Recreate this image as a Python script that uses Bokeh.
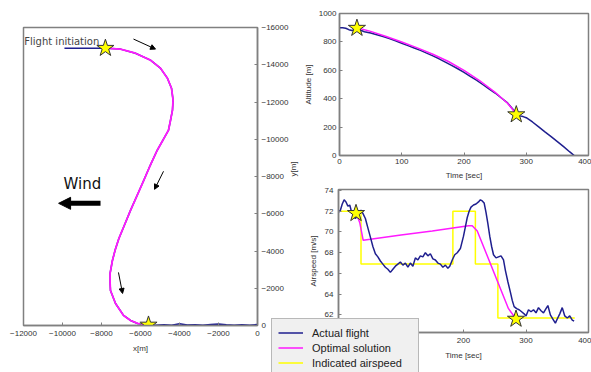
import math
from bokeh.plotting import figure
from bokeh.models import (Range1d, FixedTicker, Label, Arrow, NormalHead,
                          Legend, LegendItem, ColumnDataSource, GridBox, Column)
from bokeh.embed import file_html
from bokeh.resources import INLINE

# ---------------- Left panel: ground track [m] ----------------
track_x_ticks = [-12000, -10000, -8000, -6000, -4000, -2000, 0]
track_x_labels = ["\u221212000", "\u221210000", "\u22128000", "\u22126000", "\u22124000", "\u22122000", "0"]
track_y_ticks = [0, -2000, -4000, -6000, -8000, -10000, -12000, -14000, -16000]
track_y_labels = ["0", "\u22122000", "\u22124000", "\u22126000", "\u22128000", "\u221210000", "\u221212000", "\u221214000", "\u221216000"]

opt_track_x = [-7800, -7030, -6260, -5490, -4980, -4620, -4410, -4330, -4360, -4460,
               -4565, -4850, -5144, -5500, -5831, -6170, -6513, -6800, -7113, -7300,
               -7440, -7560, -7560, -7540, -7280, -6870, -6510, -6150, -5590]
opt_track_y = [-14890, -14840, -14620, -14250, -13820, -13280, -12740, -12100, -11560, -11020,
               -10483, -9950, -9408, -8600, -7795, -6990, -6182, -5450, -4661, -4050,
               -3490, -2800, -2310, -1880, -1180, -540, -270, -110, -30]

act_start_x = [-9900, -7800]
act_start_y = [-14880, -14890]
act_end_x = [-5590, -5200, -4800, -4400, -4000, -3600, -3200, -2800, -2400, -2000, -1600, -1200, -800, -400, 0]
act_end_y = [-30, -20, -45, -15, -90, -25, -35, -10, -50, -80, -35, -15, -40, -20, -50]

track_star_x = [-7800, -5590]
track_star_y = [-14890, -30]

heading_x0 = [-6360, -4820, -7130]
heading_y0 = [-15380, -8280, -2850]
heading_x1 = [-5230, -5280, -6920]
heading_y1 = [-14840, -7310, -1720]

wind_x = [-8050, -10200]
wind_y = -6560

# ---------------- Top right: altitude vs time ----------------
time_ticks = [0, 100, 200, 300, 400]
alt_ticks = [0, 200, 400, 600, 800, 1000]

alt_t = [0, 5, 10, 15, 20, 25, 30, 35, 40, 50, 60, 70, 80, 90, 100, 110, 120, 130, 140,
         150, 160, 170, 180, 190, 200, 210, 220, 230, 240, 250, 260, 270, 280, 285, 290,
         295, 300, 310, 320, 330, 340, 350, 360, 370, 377]
alt_v = [900, 899, 896, 886, 881, 887, 891, 880, 872, 862, 850, 838, 824, 808, 791, 774, 757, 740, 721,
         702, 681, 658, 635, 611, 586, 558, 530, 500, 470, 440, 405, 370, 318, 292, 279,
         274, 266, 236, 201, 166, 133, 98, 62, 25, 0]

opt_alt_t = [28, 50, 75, 100, 125, 150, 175, 200, 225, 250, 270, 284]
opt_alt_v = [900, 874, 838, 799, 758, 713, 662, 600, 528, 445, 368, 292]

alt_star_t = [28, 284]
alt_star_v = [897, 288]

# ---------------- Bottom right: airspeed vs time ----------------
spd_ticks = [62, 64, 66, 68, 70, 72, 74]

spd_t = [0, 3, 6, 9, 12, 15, 18, 21, 24, 27,
         30, 33, 36, 39, 43, 47, 51, 55, 59, 63,
         67, 71, 75, 79, 83, 87, 91, 95, 99, 103,
         107, 111, 115, 119, 123, 127, 131, 135, 139, 143,
         147, 151, 155, 159, 163, 167, 171, 175, 178, 182,
         186, 190, 195, 200, 203, 206, 209, 212, 216, 220,
         224, 227, 230, 233, 236, 239, 242, 245, 248, 252,
         256, 260, 264, 267, 271, 275, 278, 281, 285, 289,
         293, 297, 300, 304, 308, 312, 316, 320, 324, 328,
         332, 335, 339, 343, 347, 350, 354, 358, 362, 366,
         370, 374, 377]
spd_v = [71.9, 72.1, 72.7, 73.1, 72.9, 72.5, 72.6, 71.9, 71.6, 71.3,
         71.6, 71.9, 72.1, 71.8, 71.3, 70.4, 69.5, 68.6, 67.9, 67.6,
         67.2, 66.9, 66.6, 66.4, 66.1, 66.4, 66.7, 66.9, 67.1, 66.8,
         67.0, 66.6, 67.0, 66.7, 67.5, 67.3, 67.7, 67.6, 68.0, 67.7,
         67.9, 67.4, 67.3, 67.0, 66.9, 66.6, 66.8, 66.5, 66.7, 67.3,
         67.8, 68.0, 68.4, 69.6, 70.5, 71.4, 72.0, 72.4, 72.6, 72.7,
         72.9, 73.1, 73.0, 72.8, 71.9, 70.8, 69.6, 68.6, 67.8, 67.5,
         67.6, 67.7, 67.3, 66.3, 65.2, 64.2, 63.4, 62.8, 62.6, 62.5,
         62.3, 62.1, 61.9, 62.5, 62.3, 62.5, 62.2, 62.7, 62.4, 62.2,
         62.6, 62.9, 62.0, 61.6, 61.2, 61.6, 62.1, 62.7, 61.9, 61.7,
         61.9, 61.5, 61.4]

opt_spd_t = [28, 34, 39.5, 100, 150, 208, 214, 222, 272, 284]
opt_spd_v = [71.9, 70.9, 69.2, 69.7, 70.1, 70.6, 70.6, 70.1, 62.6, 61.6]

ias_t = [0, 36, 183, 219, 255, 378]
ias_v = [72.0, 66.9, 72.0, 66.9, 61.7, 61.7]

spd_star_t = [28, 284]
spd_star_v = [71.8, 61.6]

legend_labels = ["Actual flight", "Optimal solution", "Indicated airspeed"]

# ---------------- styling ----------------
FONT = "Liberation Sans"
TXT = "#333333"
FRAME = "#808080"
BLUE = "#1f1f8f"
MAGENTA = "#ff1aff"
YELLOW = "#ffff00"


def style(p):
    p.outline_line_color = FRAME
    p.outline_line_width = 1.5
    p.xgrid.visible = False
    p.ygrid.visible = False
    p.background_fill_color = "white"
    for ax in p.axis:
        ax.axis_line_color = FRAME
        ax.axis_line_width = 1.5
        ax.major_tick_in = 3
        ax.major_tick_out = 0
        ax.major_tick_line_color = FRAME
        ax.minor_tick_line_color = None
        ax.major_label_text_font = FONT
        ax.major_label_text_font_size = "8px"
        ax.major_label_text_color = TXT
        ax.axis_label_text_font = FONT
        ax.axis_label_text_font_size = "8px"
        ax.axis_label_text_font_style = "normal"
        ax.axis_label_text_color = TXT


# ---- left figure ----
left = figure(width=306, height=372, x_range=Range1d(-12000, 0), y_range=Range1d(0, -16000),
              y_axis_location="right", output_backend="svg", toolbar_location=None,
              min_border_left=23, min_border_right=49, min_border_top=27, min_border_bottom=47)
style(left)
left.xaxis.ticker = FixedTicker(ticks=track_x_ticks)
left.xaxis.major_label_overrides = dict(zip(track_x_ticks, track_x_labels))
left.yaxis.ticker = FixedTicker(ticks=track_y_ticks)
left.yaxis.major_label_overrides = dict(zip(track_y_ticks, track_y_labels))
left.xaxis.axis_label = "x[m]"
left.yaxis.axis_label = "y[m]"
left.yaxis.axis_label_orientation = math.pi / 2
left.xaxis.major_label_standoff = 5
left.xaxis.axis_label_standoff = 5
left.yaxis.major_label_standoff = 4
left.yaxis.axis_label_standoff = 2

act_track_x = act_start_x + opt_track_x + act_end_x
act_track_y = act_start_y + opt_track_y + act_end_y
left.line(act_track_x, act_track_y, line_color=BLUE, line_width=1.5)
left.line(opt_track_x, opt_track_y, line_color=MAGENTA, line_width=1.8)
left.scatter(track_star_x, track_star_y, marker="star", size=18, fill_color=YELLOW,
             line_color="#333333", line_width=1)

heads = ColumnDataSource(dict(x0=heading_x0, y0=heading_y0, x1=heading_x1, y1=heading_y1))
left.add_layout(Arrow(x_start="x0", y_start="y0", x_end="x1", y_end="y1", source=heads,
                      line_color="black", line_width=1,
                      end=NormalHead(size=5, fill_color="black", line_color="black")))
left.add_layout(Arrow(x_start=wind_x[0], y_start=wind_y, x_end=wind_x[1], y_end=wind_y,
                      line_color="black", line_width=5,
                      end=NormalHead(size=12, fill_color="black", line_color="black", line_width=1)))
left.add_layout(Label(x=-9950, y=-7580, text="Wind", text_font="DejaVu Sans",
                      text_font_size="15px", text_color="#111111", text_baseline="middle"))
left.add_layout(Label(x=-11960, y=-15268, text="Flight initiation", text_font="DejaVu Sans",
                      text_font_size="10px", text_color="#444444", text_baseline="middle"))

# ---- top right figure ----
top = figure(width=291, height=182, x_range=Range1d(0, 400), y_range=Range1d(0, 1000),
             output_backend="svg", toolbar_location=None,
             min_border_left=38, min_border_right=3, min_border_top=13, min_border_bottom=26)
style(top)
top.border_fill_color = None
top.xaxis.ticker = FixedTicker(ticks=time_ticks)
top.yaxis.ticker = FixedTicker(ticks=alt_ticks)
top.xaxis.axis_label = "Time [sec]"
top.yaxis.axis_label = "Altitude [m]"
top.xaxis.major_label_standoff = 3
top.xaxis.axis_label_standoff = 4
top.yaxis.major_label_standoff = 3
top.yaxis.axis_label_standoff = 3
top.line(alt_t, alt_v, line_color=BLUE, line_width=1.5)
top.line(opt_alt_t, opt_alt_v, line_color=MAGENTA, line_width=1.5)
top.scatter(alt_star_t, alt_star_v, marker="star", size=18, fill_color=YELLOW,
            line_color="#333333", line_width=1)

# ---- bottom right figure ----
bot = figure(width=320, height=190, x_range=Range1d(0, 400), y_range=Range1d(60.3, 74.1),
             output_backend="svg", toolbar_location=None,
             min_border_left=67, min_border_right=3, min_border_top=7, min_border_bottom=40)
style(bot)
bot.border_fill_color = None
bot.xaxis.ticker = FixedTicker(ticks=time_ticks)
bot.yaxis.ticker = FixedTicker(ticks=spd_ticks)
bot.xaxis.axis_label = "Time [sec]"
bot.yaxis.axis_label = "Airspeed [m/s]"
bot.xaxis.major_label_standoff = 5
bot.xaxis.axis_label_standoff = 5
bot.yaxis.major_label_standoff = 5
bot.yaxis.axis_label_standoff = 4
bot.step(ias_t, ias_v, mode="after", line_color=YELLOW, line_width=1.5)
bot.line(opt_spd_t, opt_spd_v, line_color=MAGENTA, line_width=1.5)
bot.line(spd_t, spd_v, line_color=BLUE, line_width=1.5)
bot.scatter(spd_star_t, spd_star_v, marker="star", size=18, fill_color=YELLOW,
            line_color="#333333", line_width=1)

# ---- legend overlay (drawn above the airspeed panel, as in the original) ----
leg = figure(width=591, height=190, x_range=Range1d(1000, 1001), y_range=Range1d(1000, 1001),
             output_backend="svg", toolbar_location=None, x_axis_type=None, y_axis_type=None,
             min_border_left=265, min_border_right=161, min_border_top=130, min_border_bottom=0)
leg.outline_line_color = None
leg.background_fill_color = None
leg.border_fill_color = None
leg.xgrid.visible = False
leg.ygrid.visible = False
l_act = leg.line(spd_t, spd_v, line_color=BLUE, line_width=1.5)
l_opt = leg.line(opt_spd_t, opt_spd_v, line_color=MAGENTA, line_width=1.5)
l_ias = leg.step(ias_t, ias_v, mode="after", line_color=YELLOW, line_width=1.5)
legend = Legend(items=[LegendItem(label=legend_labels[0], renderers=[l_act]),
                       LegendItem(label=legend_labels[1], renderers=[l_opt]),
                       LegendItem(label=legend_labels[2], renderers=[l_ias])],
                location=(6, -5), margin=0, padding=6, spacing=0,
                glyph_width=25, glyph_height=15, label_height=15, label_width=100,
                label_standoff=9,
                label_text_font=FONT, label_text_font_size="11px", label_text_color="#222222",
                background_fill_color="#f0f0f0", background_fill_alpha=1,
                border_line_color="#808080", border_line_width=1)
leg.add_layout(legend, "center")

grid = GridBox(children=[(Column(children=[left]), 0, 0, 2, 3),
                         (Column(children=[top]), 0, 2, 1, 2),
                         (Column(children=[bot]), 1, 1, 1, 3),
                         (Column(children=[leg]), 1, 0, 1, 4)],
               cols=["271px", "29px", "6px", "285px"], rows=["182px", "190px"],
               spacing=0)
open("out.html", "w").write(file_html(grid, INLINE))
